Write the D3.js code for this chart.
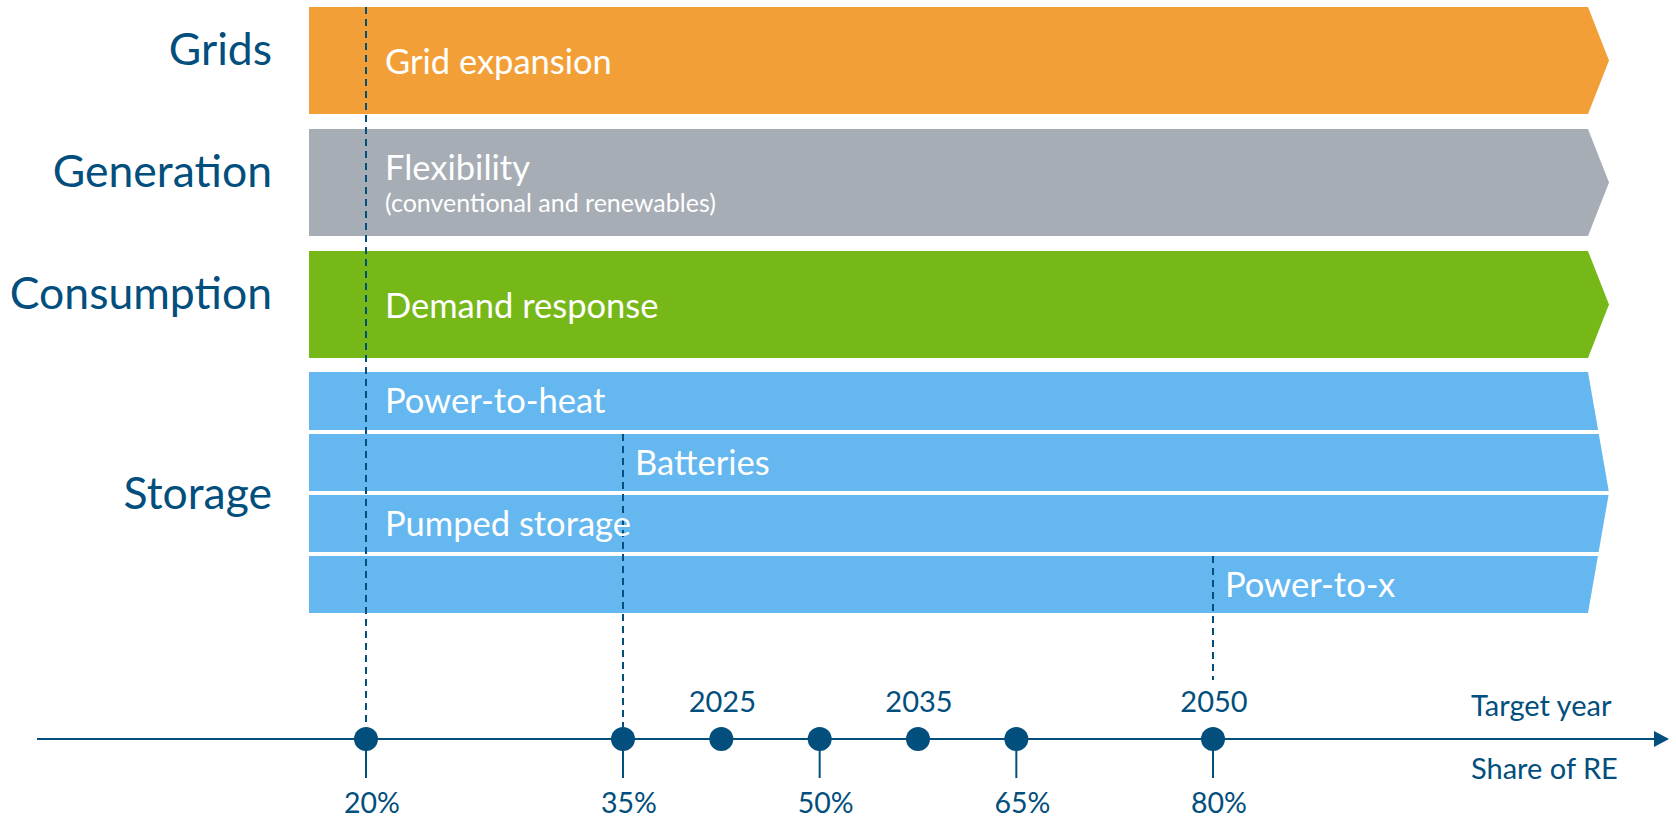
<!DOCTYPE html>
<html><head><meta charset="utf-8">
<script src="https://cdn.jsdelivr.net/npm/d3@7"></script>
<style>
body{margin:0;background:#fff}
svg{display:block}
text{font-family:Lato,"Open Sans",sans-serif}
</style>
</head><body>
<svg id="c" width="1676" height="819"></svg>
<script>
// ---- data ----
const categories = ["Grids", "Generation", "Consumption", "Storage"];
const categorySlots = [2, 2, 2, 4];
const measures = ["Grid expansion", "Flexibility", "Demand response", "Power-to-heat", "Batteries", "Pumped storage", "Power-to-x"];
const measureCategory = ["Grids", "Generation", "Consumption", "Storage", "Storage", "Storage", "Storage"];
const measureNote = ["", "(conventional and renewables)", "", "", "", "", ""];
const measureStartShare = [20, 20, 20, 20, 35, 20, 80];
const shareTicks = [20, 35, 50, 65, 80];
const shareLabels = ["20%", "35%", "50%", "65%", "80%"];
const targetYears = [2025, 2035, 2050];
const targetYearShare = [42.5, 57.5, 80];
const guideShares = [20, 35, 80];
const guideFromMeasure = ["Grid expansion", "Batteries", "Power-to-x"];

// ---- styles / layout ----
const W = 1676, H = 819;
const catColors = {Grids: "#F39F37", Generation: "#A6ADB4", Consumption: "#77B819", Storage: "#65B7F0"};
const ink = "#024E7C";
const barLeft = 309, barRight = 1588, tipX = 1609;
const axisY = 739, dotR = 12;

const svg = d3.select("#c");

// share scale (timeline; 20% is set apart from the rest)
const x = d3.scaleLinear().domain([20, 35, 80]).range([366, 623, 1213]);
// slot scale for rows
const totalSlots = d3.sum(categorySlots);
const y = d3.scaleLinear().domain([0, totalSlots]).range([7, 617]);

const catStart = {};
let acc = 0;
categories.forEach((c, i) => { catStart[c] = acc; acc += categorySlots[i]; });

const rows = measures.map((m, i) => {
  const c = measureCategory[i];
  const sameCat = measures.filter((_, j) => measureCategory[j] === c);
  const k = sameCat.indexOf(m);
  const n = sameCat.length;
  const per = categorySlots[categories.indexOf(c)] / n;
  const s0 = catStart[c] + k * per, s1 = s0 + per;
  const gap = n > 1 ? 4 : 15;
  return {m, c, note: measureNote[i], start: measureStartShare[i],
          y0: y(s0) - (n > 1 && k === 0 ? 1 : 0), y1: y(s1) - gap, n, k};
});

function chevronX(yy, top, bot) {
  const mid = (top + bot) / 2, half = (bot - top) / 2;
  return tipX - (tipX - barRight) * Math.abs(yy - mid) / half;
}
rows.forEach(r => {
  const cRows = rows.filter(q => q.c === r.c);
  const top = cRows[0].y0, bot = cRows[cRows.length - 1].y1;
  const mid = (top + bot) / 2;
  const pts = [[barLeft, r.y0], [chevronX(r.y0, top, bot), r.y0]];
  if (r.y0 < mid && r.y1 > mid) pts.push([tipX, mid]);
  pts.push([chevronX(r.y1, top, bot), r.y1], [barLeft, r.y1]);
  r.pts = pts;
});

svg.append("g").selectAll("polygon").data(rows).join("polygon")
  .attr("points", d => d.pts.map(p => p.join(",")).join(" "))
  .attr("fill", d => catColors[d.c]);

// guide lines (dashed)
const yearLabelY = 712;
svg.append("g").selectAll("line").data(guideShares).join("line")
  .attr("x1", d => x(d)).attr("x2", d => x(d))
  .attr("y1", (d, i) => rows.find(r => r.m === guideFromMeasure[i]).y0)
  .attr("y2", d => targetYearShare.includes(d) ? 680 : axisY - dotR)
  .attr("stroke", ink).attr("stroke-width", 2).attr("stroke-dasharray", "7,5");

// measure labels
const lab = svg.append("g").selectAll("g").data(rows).join("g");
lab.append("text")
  .attr("x", d => x(d.start) + (d.start === 20 ? 19 : 12))
  .attr("y", d => (d.y0 + d.y1) / 2 + (d.note ? -3 : (d.n > 1 ? 12 : 13)))
  .attr("fill", "#fff").attr("font-size", 34.5)
  .text(d => d.m);
lab.filter(d => d.note).append("text")
  .attr("x", d => x(d.start) + 19)
  .attr("y", d => (d.y0 + d.y1) / 2 + 29)
  .attr("fill", "#fff").attr("font-size", 25)
  .text(d => d.note);

// category labels
svg.append("g").selectAll("text").data(categories).join("text")
  .attr("x", 272).attr("text-anchor", "end")
  .attr("y", (c, i) => {
    const r = rows.filter(q => q.c === c);
    const cy = (r[0].y0 + r[r.length - 1].y1) / 2;
    return cy + (categorySlots[i] > 2 ? 16 : 4);
  })
  .attr("fill", ink).attr("font-size", 44.5)
  .text(c => c);

// timeline axis
svg.append("line").attr("x1", 37).attr("x2", 1656).attr("y1", axisY).attr("y2", axisY)
  .attr("stroke", ink).attr("stroke-width", 2);
svg.append("polygon")
  .attr("points", `1654,${axisY - 8} 1669,${axisY} 1654,${axisY + 8}`)
  .attr("fill", ink);

// share ticks
svg.append("g").selectAll("line").data(shareTicks).join("line")
  .attr("x1", d => x(d)).attr("x2", d => x(d))
  .attr("y1", axisY).attr("y2", 778)
  .attr("stroke", ink).attr("stroke-width", 2);

// dots
const dotShares = Array.from(new Set(shareTicks.concat(targetYearShare)));
svg.append("g").selectAll("circle").data(dotShares).join("circle")
  .attr("cx", d => x(d)).attr("cy", axisY).attr("r", dotR).attr("fill", ink);

// labels
svg.append("g").selectAll("text").data(shareLabels).join("text")
  .attr("x", (d, i) => x(shareTicks[i]) + 6).attr("y", 813)
  .attr("text-anchor", "middle").attr("fill", ink).attr("font-size", 28.5)
  .text(d => d);
svg.append("g").selectAll("text").data(targetYears).join("text")
  .attr("x", (d, i) => x(targetYearShare[i]) + 1).attr("y", yearLabelY)
  .attr("text-anchor", "middle").attr("fill", ink).attr("font-size", 29)
  .text(d => d);
svg.append("text").attr("x", 1471).attr("y", 716).attr("fill", ink).attr("font-size", 29).text("Target year");
svg.append("text").attr("x", 1471).attr("y", 779).attr("fill", ink).attr("font-size", 29).text("Share of RE");
</script>
</body></html>
